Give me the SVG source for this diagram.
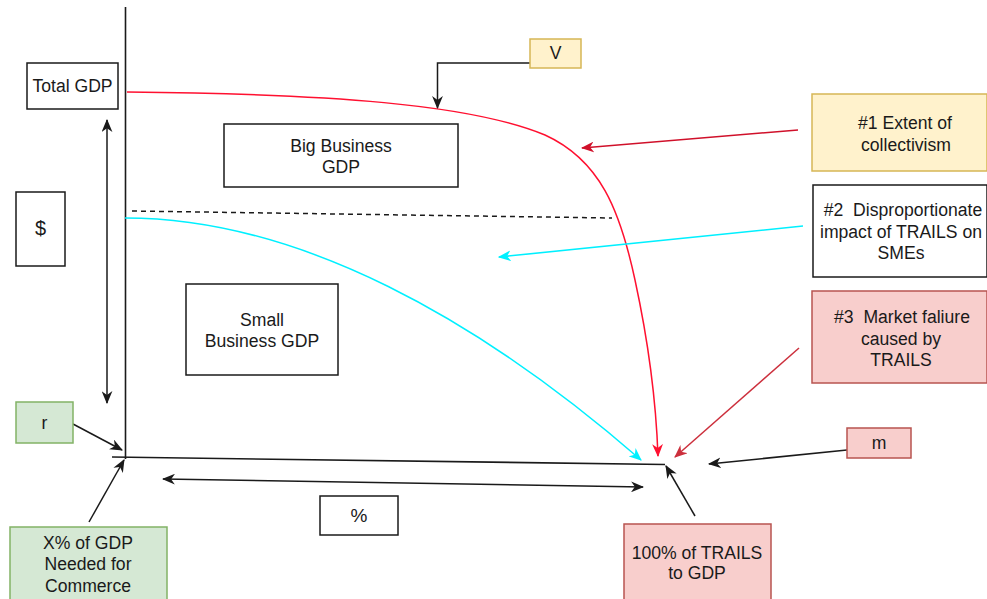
<svg xmlns="http://www.w3.org/2000/svg" width="987" height="599" viewBox="0 0 987 599">
<style>
  text { font-family: "Liberation Sans", Arial, Helvetica, sans-serif; font-size: 17.6px; fill: #1a1a1a; text-anchor: middle; }
  .box { fill: #ffffff; stroke: #1a1a1a; stroke-width: 1.5; }
  .yellow { fill: #fff2cc; stroke: #d6b656; stroke-width: 1.5; }
  .green { fill: #d5e8d4; stroke: #82b366; stroke-width: 1.5; }
  .red { fill: #f8cecc; stroke: #b85450; stroke-width: 1.5; }
  .ln { fill: none; stroke: #1a1a1a; stroke-width: 1.5; }
  .axis { fill: none; stroke: #1a1a1a; stroke-width: 1.6; }
</style>
<defs>
  <marker id="aK" viewBox="0 0 12 10" refX="11" refY="5" markerWidth="13" markerHeight="11" markerUnits="userSpaceOnUse" orient="auto-start-reverse">
    <path d="M0,0 L12,5 L0,10 L3.5,5 Z" fill="#1a1a1a"/>
  </marker>
  <marker id="aR" viewBox="0 0 12 10" refX="11" refY="5" markerWidth="13" markerHeight="11" markerUnits="userSpaceOnUse" orient="auto">
    <path d="M0,0 L12,5 L0,10 L3.5,5 Z" fill="#ff1030"/>
  </marker>
  <marker id="aR1" viewBox="0 0 12 10" refX="11" refY="5" markerWidth="13" markerHeight="11" markerUnits="userSpaceOnUse" orient="auto">
    <path d="M0,0 L12,5 L0,10 L3.5,5 Z" fill="#d0102a"/>
  </marker>
  <marker id="aR3" viewBox="0 0 12 10" refX="11" refY="5" markerWidth="13" markerHeight="11" markerUnits="userSpaceOnUse" orient="auto">
    <path d="M0,0 L12,5 L0,10 L3.5,5 Z" fill="#cc2f3c"/>
  </marker>
  <marker id="aC" viewBox="0 0 12 10" refX="11" refY="5" markerWidth="13" markerHeight="11" markerUnits="userSpaceOnUse" orient="auto">
    <path d="M0,0 L12,5 L0,10 L3.5,5 Z" fill="#00f0ff"/>
  </marker>
</defs>

<g id="connectors">
  <!-- axes -->
  <line class="axis" x1="125.5" y1="7" x2="125.5" y2="459"/>
  <line class="axis" x1="112" y1="457" x2="665" y2="464.5"/>
  <!-- dashed level -->
  <line x1="132" y1="211" x2="612" y2="218" stroke="#1a1a1a" stroke-width="1.5" stroke-dasharray="5,4"/>
  <!-- red curve -->
  <path d="M127,92 C330,94 470,104 545,135 C600,160 620,210 635,280 C648,340 656,400 658,456" fill="none" stroke="#ff1030" stroke-width="1.5" marker-end="url(#aR)"/>
  <!-- cyan curve -->
  <path d="M125,218 C300,218 480,320 641,460" fill="none" stroke="#00f0ff" stroke-width="1.5" marker-end="url(#aC)"/>
  <!-- vertical double arrow -->
  <line class="ln" x1="107" y1="120" x2="107" y2="403" marker-start="url(#aK)" marker-end="url(#aK)"/>
  <!-- horizontal double arrow -->
  <line class="ln" x1="163" y1="479" x2="643" y2="487" marker-start="url(#aK)" marker-end="url(#aK)"/>
  <!-- V arrow -->
  <path class="ln" d="M530,63 L437.5,63 L437.5,108" marker-end="url(#aK)"/>
  <!-- #1 arrow -->
  <line x1="798" y1="130" x2="582" y2="148" stroke="#d0102a" stroke-width="1.5" marker-end="url(#aR1)"/>
  <!-- #2 arrow -->
  <line x1="803" y1="226" x2="499" y2="257" stroke="#00f0ff" stroke-width="1.5" marker-end="url(#aC)"/>
  <!-- #3 arrow -->
  <line x1="799" y1="348" x2="675" y2="457" stroke="#cc2f3c" stroke-width="1.5" marker-end="url(#aR3)"/>
  <!-- m arrow -->
  <line class="ln" x1="847" y1="450" x2="709" y2="464" marker-end="url(#aK)"/>
  <!-- 100% arrow -->
  <line class="ln" x1="695" y1="516" x2="666" y2="466" marker-end="url(#aK)"/>
  <!-- r arrow -->
  <line class="ln" x1="73" y1="424" x2="122" y2="450" marker-end="url(#aK)"/>
  <!-- X% arrow -->
  <line class="ln" x1="89" y1="522" x2="124" y2="460" marker-end="url(#aK)"/>
</g>

<g id="total-gdp"><rect class="box" x="27" y="63" width="91" height="46"/><text x="72.5" y="92">Total GDP</text></g>
<g id="big-business"><rect class="box" x="224" y="124" width="234" height="63"/><text x="341" y="152">Big Business</text><text x="341" y="173">GDP</text></g>
<g id="dollar"><rect class="box" x="16" y="192" width="49" height="74"/><text x="40.5" y="235" style="font-size:20px">$</text></g>
<g id="small-business"><rect class="box" x="186" y="284" width="152" height="91"/><text x="262" y="326">Small</text><text x="262" y="347">Business GDP</text></g>
<g id="v"><rect class="yellow" x="530" y="39" width="51" height="29"/><text x="555.5" y="59">V</text></g>
<g id="n1"><rect class="yellow" x="812" y="94" width="175" height="77"/><text x="905" y="129">#1 Extent of</text><text x="906" y="151">collectivism</text></g>
<g id="n2"><rect class="box" x="813" y="185" width="174" height="92"/><text x="903" y="216" xml:space="preserve">#2  Disproportionate</text><text x="901" y="238">impact of TRAILS on</text><text x="901" y="259">SMEs</text></g>
<g id="n3"><rect class="red" x="812" y="291" width="175" height="92"/><text x="902" y="323" xml:space="preserve">#3  Market faliure</text><text x="901" y="345">caused by</text><text x="901" y="366">TRAILS</text></g>
<g id="r"><rect class="green" x="16" y="402" width="57" height="41"/><text x="44.5" y="429">r</text></g>
<g id="m"><rect class="red" x="847" y="428" width="64" height="30"/><text x="879" y="449">m</text></g>
<g id="pct"><rect class="box" x="320" y="496" width="78" height="39"/><text x="359" y="522" style="font-size:19px">%</text></g>
<g id="xpct"><rect class="green" x="10" y="527" width="157" height="76"/><text x="88" y="549">X% of GDP</text><text x="88" y="570">Needed for</text><text x="88" y="592">Commerce</text></g>
<g id="hundred"><rect class="red" x="624" y="524" width="147" height="78"/><text x="697" y="559">100% of TRAILS</text><text x="697" y="579">to GDP</text></g>
</svg>
